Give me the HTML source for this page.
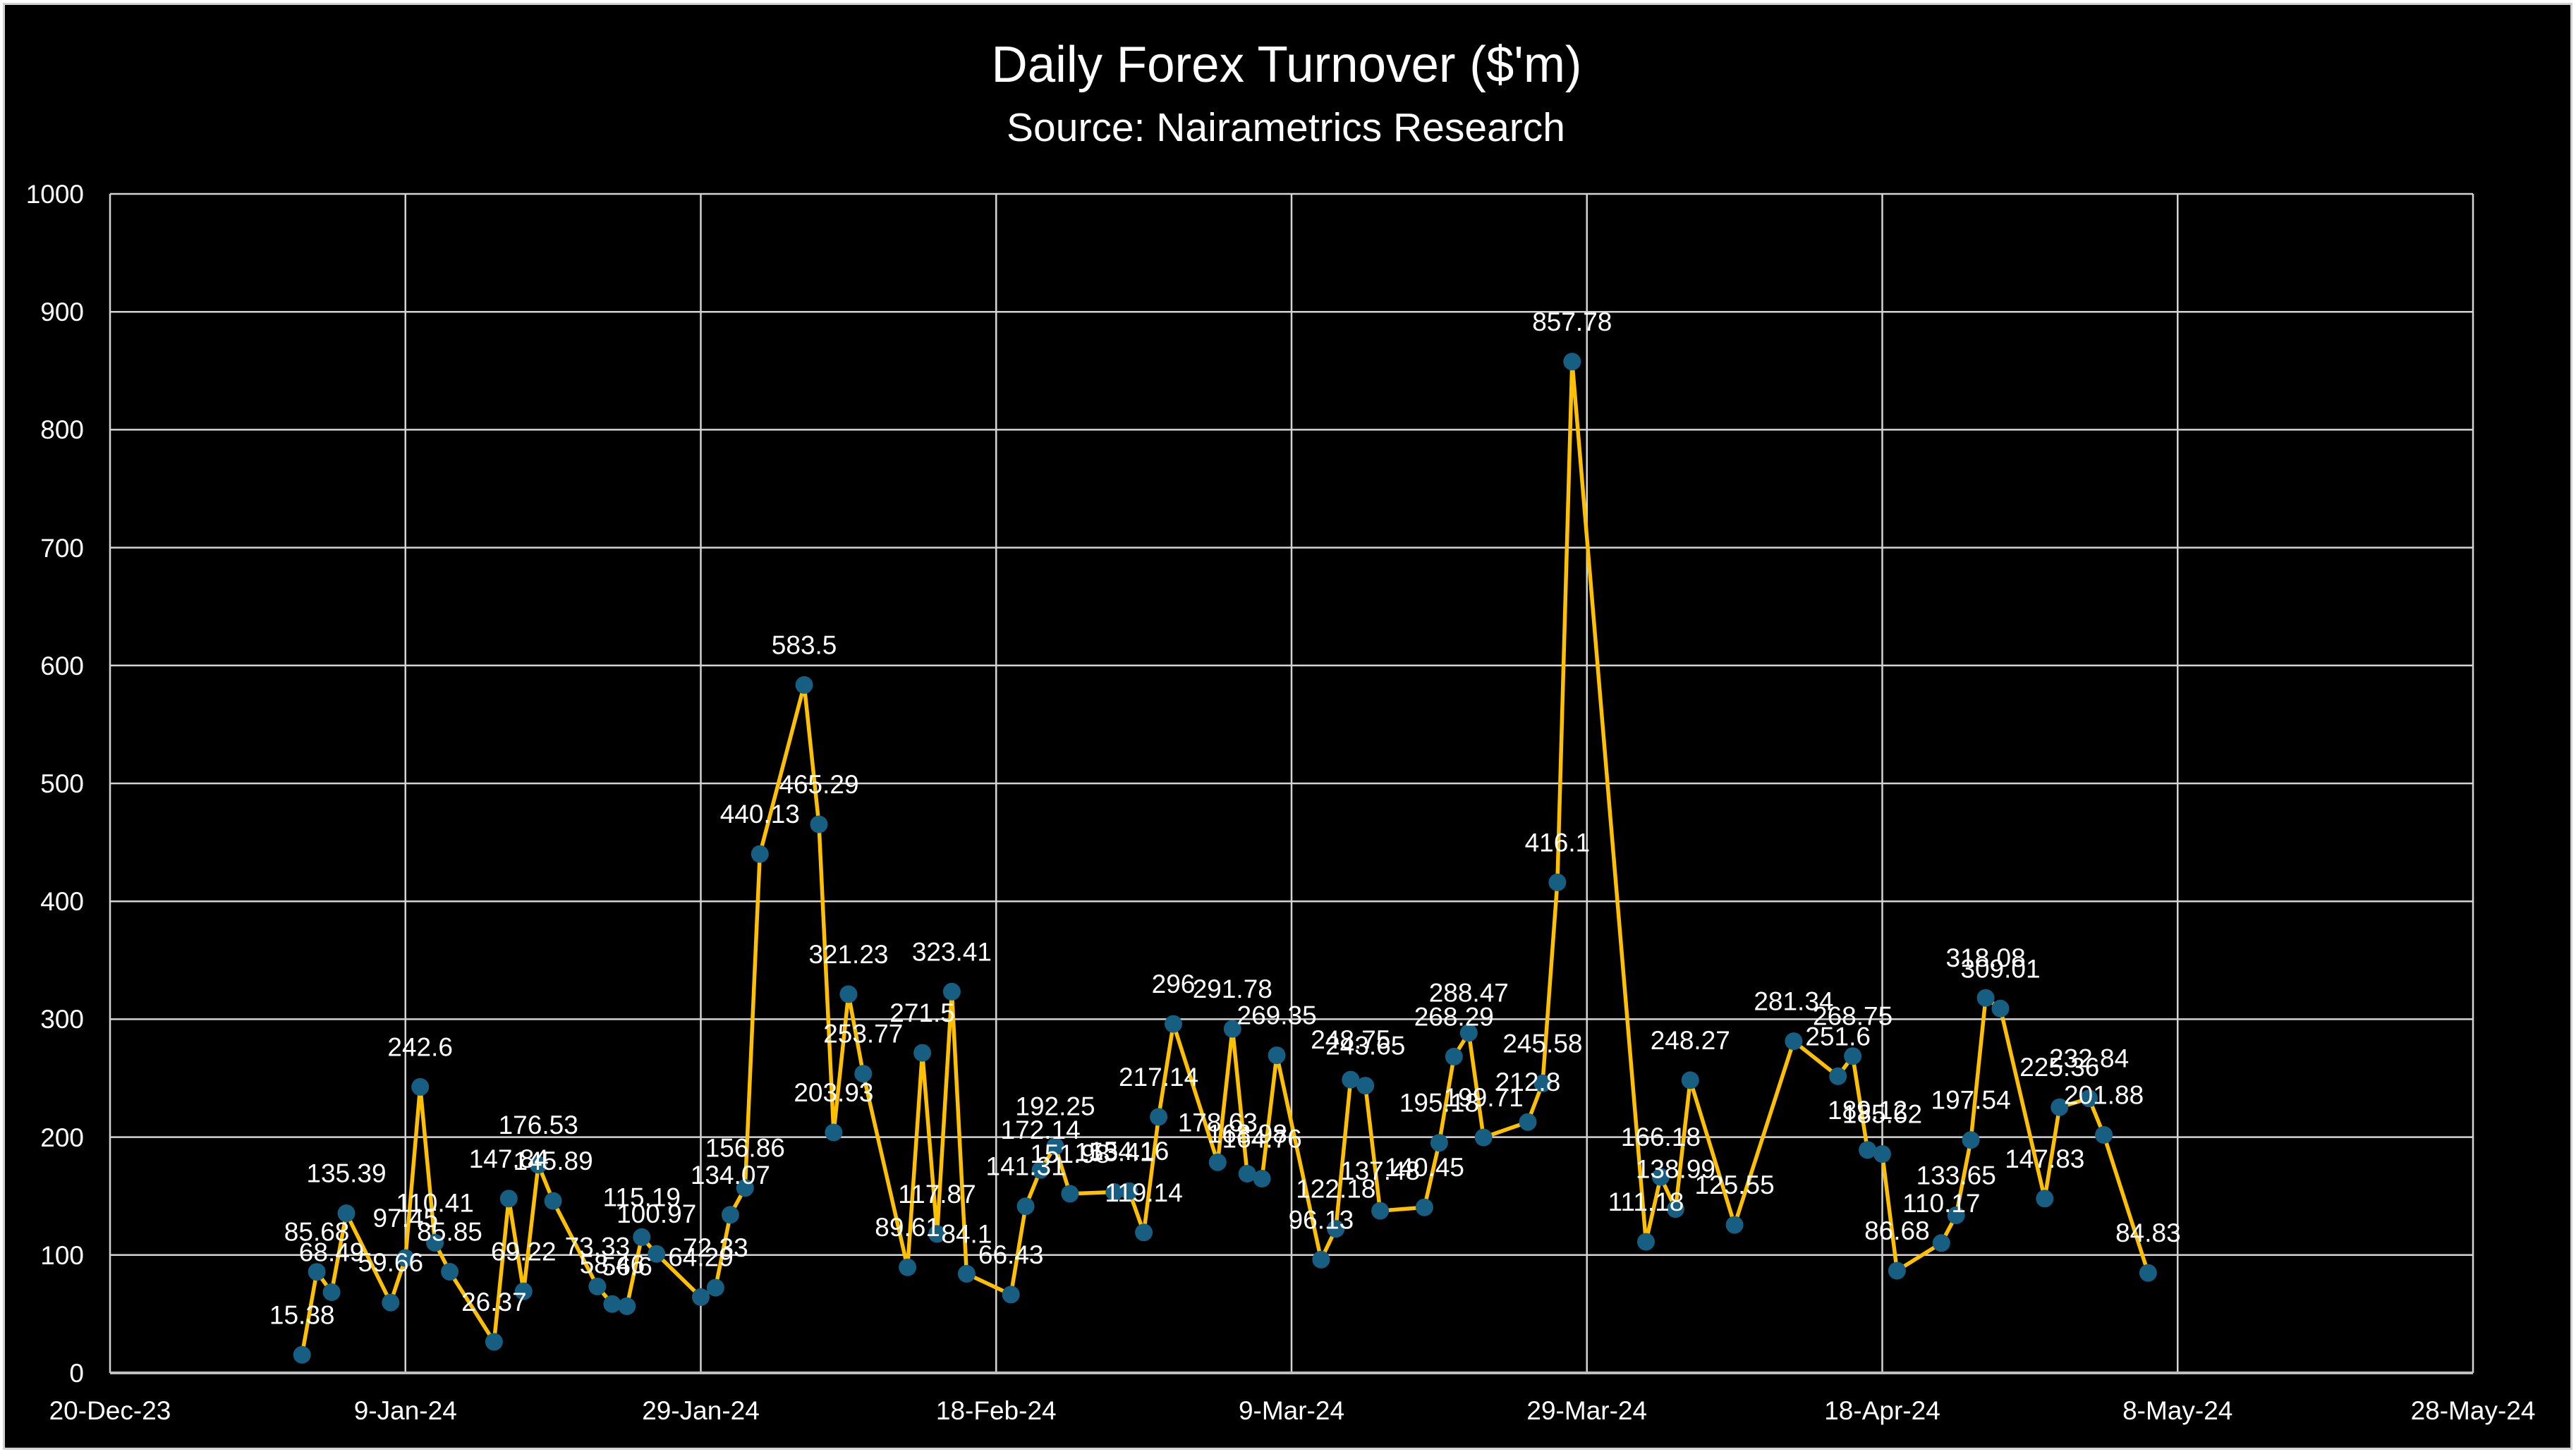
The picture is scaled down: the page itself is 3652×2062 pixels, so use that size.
<!DOCTYPE html>
<html>
<head>
<meta charset="utf-8">
<style>
  html,body{margin:0;padding:0;background:#ffffff;}
  svg{display:block;}
</style>
</head>
<body>
<svg width="3652" height="2062" viewBox="0 0 3652 2062" xmlns="http://www.w3.org/2000/svg" font-family="'Liberation Sans', Arial, sans-serif">
  <rect x="0" y="0" width="3652" height="2062" fill="#ffffff"/>
  <rect x="5.5" y="5.5" width="3640" height="2049" fill="#000000" stroke="#d0d0d0" stroke-width="3"/>

  <!-- Title -->
  <text x="1824" y="116" font-size="72" fill="#ffffff" text-anchor="middle" textLength="837" lengthAdjust="spacingAndGlyphs">Daily Forex Turnover ($'m)</text>
  <text x="1823" y="200" font-size="57" fill="#ffffff" text-anchor="middle">Source: Nairametrics Research</text>

  <!-- Gridlines -->
  <g stroke="#d4d4d4" stroke-width="2.5" fill="none">
    <line x1="156" y1="275" x2="3506" y2="275"/>
    <line x1="156" y1="442.2" x2="3506" y2="442.2"/>
    <line x1="156" y1="609.4" x2="3506" y2="609.4"/>
    <line x1="156" y1="776.6" x2="3506" y2="776.6"/>
    <line x1="156" y1="943.8" x2="3506" y2="943.8"/>
    <line x1="156" y1="1111" x2="3506" y2="1111"/>
    <line x1="156" y1="1278.2" x2="3506" y2="1278.2"/>
    <line x1="156" y1="1445.4" x2="3506" y2="1445.4"/>
    <line x1="156" y1="1612.6" x2="3506" y2="1612.6"/>
    <line x1="156" y1="1779.8" x2="3506" y2="1779.8"/>
    <line x1="156" y1="275" x2="156" y2="1947"/>
    <line x1="574.75" y1="275" x2="574.75" y2="1947"/>
    <line x1="993.5" y1="275" x2="993.5" y2="1947"/>
    <line x1="1412.25" y1="275" x2="1412.25" y2="1947"/>
    <line x1="1831" y1="275" x2="1831" y2="1947"/>
    <line x1="2249.75" y1="275" x2="2249.75" y2="1947"/>
    <line x1="2668.5" y1="275" x2="2668.5" y2="1947"/>
    <line x1="3087.25" y1="275" x2="3087.25" y2="1947"/>
    <line x1="3506" y1="275" x2="3506" y2="1947"/>
  </g>
  <line x1="156" y1="1947" x2="3506" y2="1947" stroke="#bfbfbf" stroke-width="4"/>

  <!-- Y tick labels -->
  <g font-size="37" fill="#ffffff" text-anchor="end">
    <text x="119" y="288">1000</text>
    <text x="119" y="455">900</text>
    <text x="119" y="622">800</text>
    <text x="119" y="790">700</text>
    <text x="119" y="957">600</text>
    <text x="119" y="1124">500</text>
    <text x="119" y="1291">400</text>
    <text x="119" y="1458">300</text>
    <text x="119" y="1626">200</text>
    <text x="119" y="1793">100</text>
    <text x="119" y="1960">0</text>
  </g>

  <!-- X tick labels -->
  <g font-size="37" fill="#ffffff" text-anchor="middle">
    <text x="156" y="2013">20-Dec-23</text>
    <text x="574.75" y="2013">9-Jan-24</text>
    <text x="993.5" y="2013">29-Jan-24</text>
    <text x="1412.25" y="2013">18-Feb-24</text>
    <text x="1831" y="2013">9-Mar-24</text>
    <text x="2249.75" y="2013">29-Mar-24</text>
    <text x="2668.5" y="2013">18-Apr-24</text>
    <text x="3087.25" y="2013">8-May-24</text>
    <text x="3506" y="2013">28-May-24</text>
  </g>

  <!-- Series line -->
  <polyline fill="none" stroke="#FFC000" stroke-width="5.5" stroke-linejoin="round" stroke-linecap="round" points="
428.2,1921.3 449.1,1803.7 470.1,1832.5 491.0,1720.6 553.8,1847.2 574.8,1784.1 595.7,1541.4 616.6,1762.4 637.6,1803.5
700.4,1902.9 721.3,1699.8 742.3,1831.3 763.2,1651.8 784.1,1703.1 846.9,1824.4 867.9,1849.3 888.8,1852.4 909.8,1754.4 930.7,1778.2
993.5,1839.5 1014.4,1826.1 1035.4,1722.8 1056.3,1684.7 1077.3,1211.1 1140.1,971.4 1161.0,1169.0 1181.9,1606.0 1202.9,1409.9 1223.8,1522.7
1286.6,1797.2 1307.6,1493.1 1328.5,1749.9 1349.4,1406.3 1370.4,1806.4 1433.2,1835.9 1454.1,1710.7 1475.1,1659.2 1496.0,1625.6 1516.9,1692.9
1579.8,1690.5 1600.7,1689.2 1621.6,1747.8 1642.6,1583.9 1663.5,1452.1 1726.3,1648.3 1747.3,1459.1 1768.2,1664.5 1789.1,1671.5 1810.1,1496.6
1872.9,1786.3 1893.8,1742.7 1914.8,1531.1 1935.7,1539.6 1956.6,1717.1 2019.4,1712.2 2040.4,1620.7 2061.3,1498.4 2082.3,1464.7 2103.2,1613.1
2166.0,1591.2 2186.9,1536.4 2207.9,1251.3 2228.8,512.8 2333.5,1761.1 2354.4,1669.1 2375.4,1714.6 2396.3,1531.9 2459.1,1737.1 2542.9,1476.6
2605.7,1526.3 2626.6,1497.7 2647.6,1630.8 2668.5,1636.6 2689.4,1802.1 2752.3,1762.8 2773.2,1723.5 2794.1,1616.7 2815.1,1415.2 2836.0,1430.3
2898.8,1699.8 2919.8,1570.2 2961.6,1557.7 2982.6,1609.5 3045.4,1805.2"/>

  <!-- Markers -->
  <g fill="#175e83">
    <circle cx="428.2" cy="1921.3" r="12.5"/><circle cx="449.1" cy="1803.7" r="12.5"/><circle cx="470.1" cy="1832.5" r="12.5"/>
    <circle cx="491.0" cy="1720.6" r="12.5"/><circle cx="553.8" cy="1847.2" r="12.5"/><circle cx="574.8" cy="1784.1" r="12.5"/>
    <circle cx="595.7" cy="1541.4" r="12.5"/><circle cx="616.6" cy="1762.4" r="12.5"/><circle cx="637.6" cy="1803.5" r="12.5"/>
    <circle cx="700.4" cy="1902.9" r="12.5"/><circle cx="721.3" cy="1699.8" r="12.5"/><circle cx="742.3" cy="1831.3" r="12.5"/>
    <circle cx="763.2" cy="1651.8" r="12.5"/><circle cx="784.1" cy="1703.1" r="12.5"/><circle cx="846.9" cy="1824.4" r="12.5"/>
    <circle cx="867.9" cy="1849.3" r="12.5"/><circle cx="888.8" cy="1852.4" r="12.5"/><circle cx="909.8" cy="1754.4" r="12.5"/>
    <circle cx="930.7" cy="1778.2" r="12.5"/><circle cx="993.5" cy="1839.5" r="12.5"/><circle cx="1014.4" cy="1826.1" r="12.5"/>
    <circle cx="1035.4" cy="1722.8" r="12.5"/><circle cx="1056.3" cy="1684.7" r="12.5"/><circle cx="1077.3" cy="1211.1" r="12.5"/>
    <circle cx="1140.1" cy="971.4" r="12.5"/><circle cx="1161.0" cy="1169.0" r="12.5"/><circle cx="1181.9" cy="1606.0" r="12.5"/>
    <circle cx="1202.9" cy="1409.9" r="12.5"/><circle cx="1223.8" cy="1522.7" r="12.5"/><circle cx="1286.6" cy="1797.2" r="12.5"/>
    <circle cx="1307.6" cy="1493.1" r="12.5"/><circle cx="1328.5" cy="1749.9" r="12.5"/><circle cx="1349.4" cy="1406.3" r="12.5"/>
    <circle cx="1370.4" cy="1806.4" r="12.5"/><circle cx="1433.2" cy="1835.9" r="12.5"/><circle cx="1454.1" cy="1710.7" r="12.5"/>
    <circle cx="1475.1" cy="1659.2" r="12.5"/><circle cx="1496.0" cy="1625.6" r="12.5"/><circle cx="1516.9" cy="1692.9" r="12.5"/>
    <circle cx="1579.8" cy="1690.5" r="12.5"/><circle cx="1600.7" cy="1689.2" r="12.5"/><circle cx="1621.6" cy="1747.8" r="12.5"/>
    <circle cx="1642.6" cy="1583.9" r="12.5"/><circle cx="1663.5" cy="1452.1" r="12.5"/><circle cx="1726.3" cy="1648.3" r="12.5"/>
    <circle cx="1747.3" cy="1459.1" r="12.5"/><circle cx="1768.2" cy="1664.5" r="12.5"/><circle cx="1789.1" cy="1671.5" r="12.5"/>
    <circle cx="1810.1" cy="1496.6" r="12.5"/><circle cx="1872.9" cy="1786.3" r="12.5"/><circle cx="1893.8" cy="1742.7" r="12.5"/>
    <circle cx="1914.8" cy="1531.1" r="12.5"/><circle cx="1935.7" cy="1539.6" r="12.5"/><circle cx="1956.6" cy="1717.1" r="12.5"/>
    <circle cx="2019.4" cy="1712.2" r="12.5"/><circle cx="2040.4" cy="1620.7" r="12.5"/><circle cx="2061.3" cy="1498.4" r="12.5"/>
    <circle cx="2082.3" cy="1464.7" r="12.5"/><circle cx="2103.2" cy="1613.1" r="12.5"/><circle cx="2166.0" cy="1591.2" r="12.5"/>
    <circle cx="2186.9" cy="1536.4" r="12.5"/><circle cx="2207.9" cy="1251.3" r="12.5"/><circle cx="2228.8" cy="512.8" r="12.5"/>
    <circle cx="2333.5" cy="1761.1" r="12.5"/><circle cx="2354.4" cy="1669.1" r="12.5"/><circle cx="2375.4" cy="1714.6" r="12.5"/>
    <circle cx="2396.3" cy="1531.9" r="12.5"/><circle cx="2459.1" cy="1737.1" r="12.5"/><circle cx="2542.9" cy="1476.6" r="12.5"/>
    <circle cx="2605.7" cy="1526.3" r="12.5"/><circle cx="2626.6" cy="1497.7" r="12.5"/><circle cx="2647.6" cy="1630.8" r="12.5"/>
    <circle cx="2668.5" cy="1636.6" r="12.5"/><circle cx="2689.4" cy="1802.1" r="12.5"/><circle cx="2752.3" cy="1762.8" r="12.5"/>
    <circle cx="2773.2" cy="1723.5" r="12.5"/><circle cx="2794.1" cy="1616.7" r="12.5"/><circle cx="2815.1" cy="1415.2" r="12.5"/>
    <circle cx="2836.0" cy="1430.3" r="12.5"/><circle cx="2898.8" cy="1699.8" r="12.5"/><circle cx="2919.8" cy="1570.2" r="12.5"/>
    <circle cx="2961.6" cy="1557.7" r="12.5"/><circle cx="2982.6" cy="1609.5" r="12.5"/><circle cx="3045.4" cy="1805.2" r="12.5"/>
  </g>

  <!-- Data labels -->
  <g font-size="37" fill="#ffffff" text-anchor="middle">
    <text x="428.2" y="1877.3">15.38</text>
    <text x="449.1" y="1759.7">85.68</text>
    <text x="470.1" y="1788.5">68.49</text>
    <text x="491.0" y="1676.6">135.39</text>
    <text x="553.8" y="1803.2">59.66</text>
    <text x="574.8" y="1740.1">97.45</text>
    <text x="595.7" y="1497.4">242.6</text>
    <text x="616.6" y="1718.4">110.41</text>
    <text x="637.6" y="1759.5">85.85</text>
    <text x="700.4" y="1858.9">26.37</text>
    <text x="721.3" y="1655.8">147.84</text>
    <text x="742.3" y="1787.3">69.22</text>
    <text x="763.2" y="1607.8">176.53</text>
    <text x="784.1" y="1659.1">145.89</text>
    <text x="846.9" y="1780.4">73.33</text>
    <text x="867.9" y="1805.3">58.46</text>
    <text x="888.8" y="1808.4">56.6</text>
    <text x="909.8" y="1710.4">115.19</text>
    <text x="930.7" y="1734.2">100.97</text>
    <text x="993.5" y="1795.5">64.29</text>
    <text x="1014.4" y="1782.1">72.33</text>
    <text x="1035.4" y="1678.8">134.07</text>
    <text x="1056.3" y="1640.7">156.86</text>
    <text x="1077.3" y="1167.1">440.13</text>
    <text x="1140.1" y="927.4">583.5</text>
    <text x="1161.0" y="1125.0">465.29</text>
    <text x="1181.9" y="1562.0">203.93</text>
    <text x="1202.9" y="1365.9">321.23</text>
    <text x="1223.8" y="1478.7">253.77</text>
    <text x="1286.6" y="1753.2">89.61</text>
    <text x="1307.6" y="1449.1">271.5</text>
    <text x="1328.5" y="1705.9">117.87</text>
    <text x="1349.4" y="1362.3">323.41</text>
    <text x="1370.4" y="1762.4">84.1</text>
    <text x="1433.2" y="1791.9">66.43</text>
    <text x="1454.1" y="1666.7">141.31</text>
    <text x="1475.1" y="1615.2">172.14</text>
    <text x="1496.0" y="1581.6">192.25</text>
    <text x="1516.9" y="1648.9">151.98</text>
    <text x="1579.8" y="1646.5">153.41</text>
    <text x="1600.7" y="1645.2">154.16</text>
    <text x="1621.6" y="1703.8">119.14</text>
    <text x="1642.6" y="1539.9">217.14</text>
    <text x="1663.5" y="1408.1">296</text>
    <text x="1726.3" y="1604.3">178.63</text>
    <text x="1747.3" y="1415.1">291.78</text>
    <text x="1768.2" y="1620.5">168.98</text>
    <text x="1789.1" y="1627.5">164.76</text>
    <text x="1810.1" y="1452.6">269.35</text>
    <text x="1872.9" y="1742.3">96.13</text>
    <text x="1893.8" y="1698.7">122.18</text>
    <text x="1914.8" y="1487.1">248.75</text>
    <text x="1935.7" y="1495.6">243.65</text>
    <text x="1956.6" y="1673.1">137.48</text>
    <text x="2019.4" y="1668.2">140.45</text>
    <text x="2040.4" y="1576.7">195.18</text>
    <text x="2061.3" y="1454.4">268.29</text>
    <text x="2082.3" y="1420.7">288.47</text>
    <text x="2103.2" y="1569.1">199.71</text>
    <text x="2166.0" y="1547.2">212.8</text>
    <text x="2186.9" y="1492.4">245.58</text>
    <text x="2207.9" y="1207.3">416.1</text>
    <text x="2228.8" y="468.8">857.78</text>
    <text x="2333.5" y="1717.1">111.18</text>
    <text x="2354.4" y="1625.1">166.18</text>
    <text x="2375.4" y="1670.6">138.99</text>
    <text x="2396.3" y="1487.9">248.27</text>
    <text x="2459.1" y="1693.1">125.55</text>
    <text x="2542.9" y="1432.6">281.34</text>
    <text x="2605.7" y="1482.3">251.6</text>
    <text x="2626.6" y="1453.7">268.75</text>
    <text x="2647.6" y="1586.8">189.12</text>
    <text x="2668.5" y="1592.6">185.62</text>
    <text x="2689.4" y="1758.1">86.68</text>
    <text x="2752.3" y="1718.8">110.17</text>
    <text x="2773.2" y="1679.5">133.65</text>
    <text x="2794.1" y="1572.7">197.54</text>
    <text x="2815.1" y="1371.2">318.08</text>
    <text x="2836.0" y="1386.3">309.01</text>
    <text x="2898.8" y="1655.8">147.83</text>
    <text x="2919.8" y="1526.2">225.36</text>
    <text x="2961.6" y="1513.7">232.84</text>
    <text x="2982.6" y="1565.5">201.88</text>
    <text x="3045.4" y="1761.2">84.83</text>
  </g>
</svg>
</body>
</html>
